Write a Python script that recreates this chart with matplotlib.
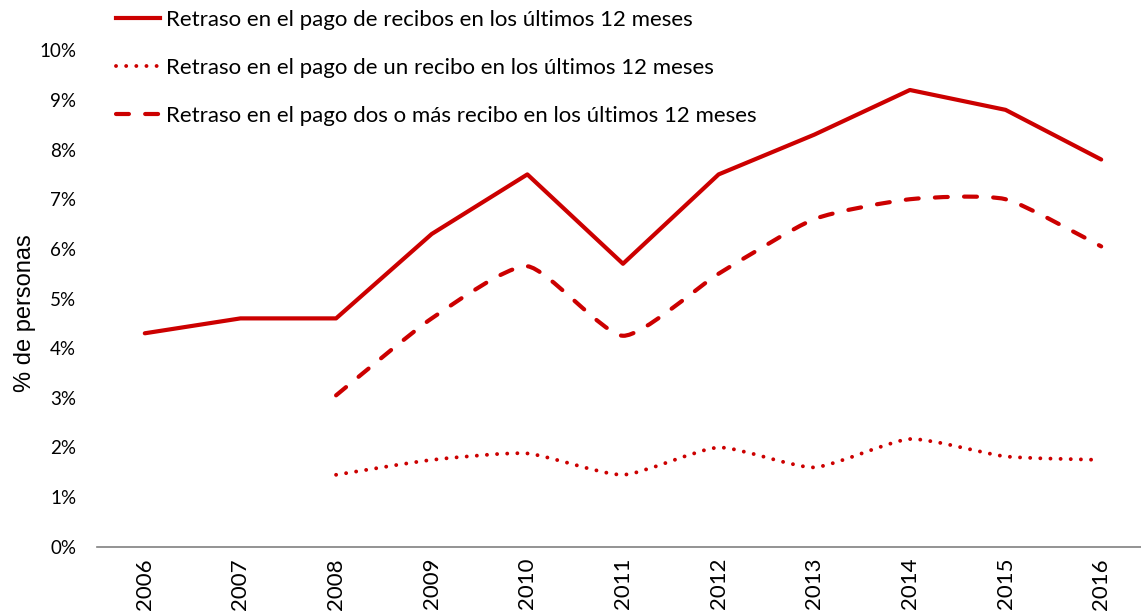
import numpy as np
import matplotlib.pyplot as plt
from matplotlib.path import Path
from matplotlib.patches import PathPatch
from matplotlib.lines import Line2D
from matplotlib.ticker import PercentFormatter

years = ['2006', '2007', '2008', '2009', '2010', '2011', '2012', '2013', '2014', '2015', '2016']

# % de personas
retraso_total = [4.3, 4.6, 4.6, 6.3, 7.5, 5.7, 7.5, 8.3, 9.2, 8.8, 7.8]
# desde 2008
retraso_uno = [1.45, 1.75, 1.88, 1.45, 2.0, 1.6, 2.17, 1.82, 1.75]
retraso_varios = [3.05, 4.6, 5.65, 4.25, 5.5, 6.6, 7.0, 7.0, 6.05]

labels = [
    'Retraso en el pago de recibos en los últimos 12 meses',
    'Retraso en el pago de un recibo en los últimos 12 meses',
    'Retraso en el pago dos o más recibo en los últimos 12 meses',
]

RED = '#CC0000'
DOTS = (0, (0.01, 2.6))
DASHES = (0, (3.1, 3.9))


# Curva suavizada (bezier entre los puntos), solo para el trazo.
def smooth_path(x, y, k=1 / 10.):
    pts = np.column_stack([x, y]).astype(float)
    verts = [pts[0]]
    codes = [Path.MOVETO]
    n = len(pts)
    for i in range(n - 1):
        p0 = pts[max(i - 1, 0)]
        p1 = pts[i]
        p2 = pts[i + 1]
        p3 = pts[min(i + 2, n - 1)]
        verts += [p1 + (p2 - p0) * k, p2 - (p3 - p1) * k, p2]
        codes += [Path.CURVE4] * 3
    return Path(verts, codes)


def main():
    plt.rcParams['font.family'] = ['Lato', 'DejaVu Sans']

    fig = plt.figure(figsize=(11.41, 6.13), dpi=100)
    ax = fig.add_axes([0.085, 0.108, 0.922, 0.81])

    x_all = np.arange(len(years))
    x_08 = x_all[2:]

    ax.plot(x_all, retraso_total, color=RED, lw=3, solid_joinstyle='round',
            solid_capstyle='round')

    ax.add_patch(PathPatch(smooth_path(x_08, retraso_uno), fill=False,
                           edgecolor=RED, lw=2.8, linestyle=DOTS,
                           capstyle='round'))
    ax.add_patch(PathPatch(smooth_path(x_08, retraso_varios), fill=False,
                           edgecolor=RED, lw=3, linestyle=DASHES,
                           capstyle='round'))

    ax.set_xlim(-0.5, len(years) - 0.5)
    ax.set_ylim(0, 10)
    ax.set_yticks(range(0, 11))
    ax.yaxis.set_major_formatter(PercentFormatter(decimals=0))
    ax.set_xticks(x_all)
    ax.set_xticklabels(years, rotation=90)
    ax.tick_params(axis='y', length=0, labelsize=13.5, pad=15)
    ax.tick_params(axis='x', length=0, labelsize=16, pad=8)

    for s in ['top', 'right', 'left']:
        ax.spines[s].set_visible(False)
    ax.spines['bottom'].set_color('#808080')
    ax.spines['bottom'].set_linewidth(1.2)

    ax.set_ylabel('% de personas', fontsize=17, family=['Liberation Sans'])
    ax.yaxis.set_label_coords(-0.058, 0.47)

    handles = [
        Line2D([], [], color=RED, lw=3),
        Line2D([], [], color=RED, lw=2.8, linestyle=DOTS,
               dash_capstyle='round'),
        Line2D([], [], color=RED, lw=3, linestyle=DASHES,
               dash_capstyle='round'),
    ]
    fig.legend(handles, labels, loc='upper left', bbox_to_anchor=(0.084, 1.016),
               frameon=False, fontsize=16, labelspacing=1.25,
               handlelength=2.0, handletextpad=0.25)

    fig.savefig('out.png', dpi=100)


if __name__ == '__main__':
    main()
